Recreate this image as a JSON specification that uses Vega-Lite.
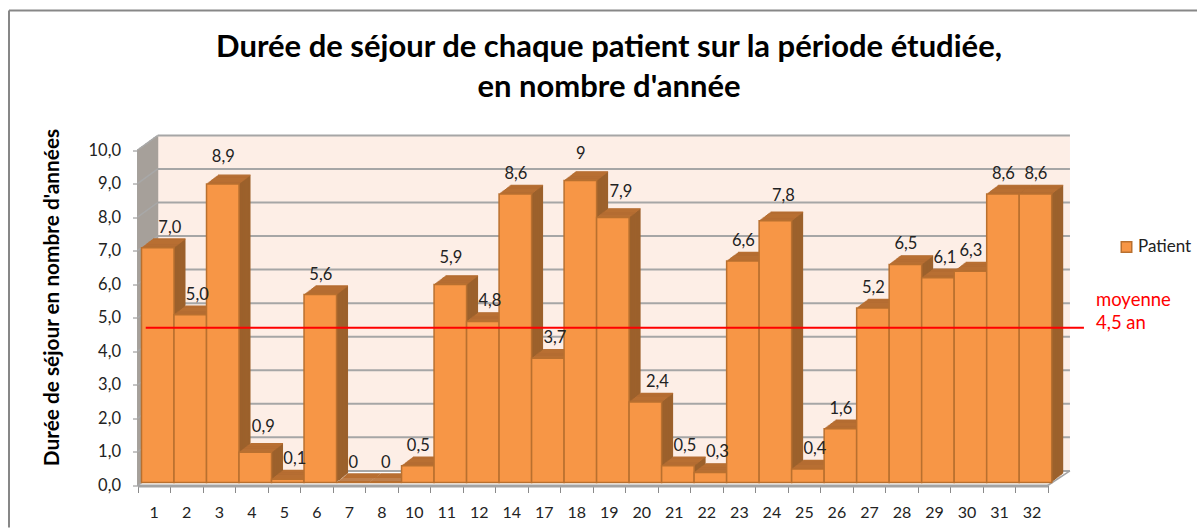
{"$schema":"https://vega.github.io/schema/vega-lite/v6.json","width":1188,"height":517,"autosize":{"type":"none"},"padding":{"left":9,"top":10.5,"right":0,"bottom":0},"background":"white","config":{"view":{"stroke":null},"font":"Lato"},"title":{"text":["Durée de séjour de chaque patient sur la période étudiée,","en nombre d'année"],"anchor":"middle","frame":"group","offset":-94,"dx":6,"fontSize":31,"fontWeight":"bold","font":"Lato","color":"#000000","lineHeight":40},"datasets":{"bars":[{"patient":"1","duree":7.0,"etiquette":"7,0"},{"patient":"2","duree":5.0,"etiquette":"5,0"},{"patient":"3","duree":8.9,"etiquette":"8,9"},{"patient":"4","duree":0.9,"etiquette":"0,9"},{"patient":"5","duree":0.1,"etiquette":"0,1"},{"patient":"6","duree":5.6,"etiquette":"5,6"},{"patient":"7","duree":0,"etiquette":"0"},{"patient":"8","duree":0,"etiquette":"0"},{"patient":"10","duree":0.5,"etiquette":"0,5"},{"patient":"11","duree":5.9,"etiquette":"5,9"},{"patient":"12","duree":4.8,"etiquette":"4,8"},{"patient":"14","duree":8.6,"etiquette":"8,6"},{"patient":"17","duree":3.7,"etiquette":"3,7"},{"patient":"18","duree":9,"etiquette":"9"},{"patient":"19","duree":7.9,"etiquette":"7,9"},{"patient":"20","duree":2.4,"etiquette":"2,4"},{"patient":"21","duree":0.5,"etiquette":"0,5"},{"patient":"22","duree":0.3,"etiquette":"0,3"},{"patient":"23","duree":6.6,"etiquette":"6,6"},{"patient":"24","duree":7.8,"etiquette":"7,8"},{"patient":"25","duree":0.4,"etiquette":"0,4"},{"patient":"26","duree":1.6,"etiquette":"1,6"},{"patient":"27","duree":5.2,"etiquette":"5,2"},{"patient":"28","duree":6.5,"etiquette":"6,5"},{"patient":"29","duree":6.1,"etiquette":"6,1"},{"patient":"30","duree":6.3,"etiquette":"6,3"},{"patient":"31","duree":8.6,"etiquette":"8,6"},{"patient":"32","duree":8.6,"etiquette":"8,6"}],"ticks":[{"t":0},{"t":1},{"t":2},{"t":3},{"t":4},{"t":5},{"t":6},{"t":7},{"t":8},{"t":9},{"t":10}],"one":[{"n":1}]},"data":{"name":"bars"},"layer":[
{"data":{"name":"one"},"mark":{"type":"rect","fill":"#fdeee6","xOffset":4,"x2Offset":38.5,"yOffset":-14.6,"y2Offset":-14.6},"encoding":{"x":{"datum":"1","type":"ordinal","title":null,"scale":{"domain":["1","2","3","4","5","6","7","8","10","11","12","14","17","18","19","20","21","22","23","24","25","26","27","28","29","30","31","32"],"range":[128.5,1038.7],"paddingInner":0,"paddingOuter":0},"axis":{"orient":"bottom","offset":-42,"bandPosition":0,"tickBand":"extent","labelAngle":0,"domain":true,"domainColor":"#a3a3a3","domainWidth":3,"tickColor":"#8a8a8a","tickSize":7,"tickWidth":1,"tickExtra":true,"grid":false,"labelFontSize":16,"labelColor":"#222222","labelFont":"Lato","labelPadding":12,"title":null}},"x2":{"datum":"32"},"y":{"datum":0,"type":"quantitative","scale":{"domain":[0,10],"range":[475,139.5],"nice":false,"zero":true},"axis":{"orient":"left","offset":-128.5,"values":[0,1,2,3,4,5,6,7,8,9,10],"domainColor":"#a3a3a3","domainWidth":2,"tickColor":"#8a8a8a","tickSize":5,"grid":false,"labelFontSize":16.5,"labelColor":"#222222","labelFont":"Lato","labelPadding":12,"labelExpr":"replace(format(datum.value,'.1f'),'.',',')","title":"Durée de séjour en nombre d'années","titleFontSize":20.8,"titleFontWeight":"bold","titleFont":"Lato","titleColor":"#000000","titleX":-75.5,"titleY":286.5,"titleAnchor":"middle"}},"y2":{"datum":10}}},
{"data":{"name":"ticks"},"mark":{"type":"rule","color":"#a6a6a6","strokeWidth":2,"xOffset":4,"x2Offset":38.5,"yOffset":-14.6},"encoding":{"x":{"datum":"1","type":"ordinal"},"x2":{"datum":"32"},"y":{"field":"t","type":"quantitative"}}},
{"data":{"name":"one"},"layer":[
{"mark":{"type":"rule","color":"#a6a09a","strokeWidth":3,"xOffset":-15,"yOffset":-1,"y2Offset":-1}},
{"mark":{"type":"rule","color":"#a6a09a","strokeWidth":3,"xOffset":-13,"yOffset":-2.2,"y2Offset":-2.2}},
{"mark":{"type":"rule","color":"#a6a09a","strokeWidth":3,"xOffset":-11,"yOffset":-3.7,"y2Offset":-3.7}},
{"mark":{"type":"rule","color":"#a6a09a","strokeWidth":3,"xOffset":-9,"yOffset":-5.1,"y2Offset":-5.1}},
{"mark":{"type":"rule","color":"#a6a09a","strokeWidth":3,"xOffset":-7,"yOffset":-6.6,"y2Offset":-6.6}},
{"mark":{"type":"rule","color":"#a6a09a","strokeWidth":3,"xOffset":-5,"yOffset":-8,"y2Offset":-8}},
{"mark":{"type":"rule","color":"#a6a09a","strokeWidth":3,"xOffset":-3,"yOffset":-9.5,"y2Offset":-9.5}},
{"mark":{"type":"rule","color":"#a6a09a","strokeWidth":3,"xOffset":-1,"yOffset":-11,"y2Offset":-11}},
{"mark":{"type":"rule","color":"#a6a09a","strokeWidth":3,"xOffset":1,"yOffset":-12.4,"y2Offset":-12.4}},
{"mark":{"type":"rule","color":"#a6a09a","strokeWidth":3,"xOffset":3,"yOffset":-13.8,"y2Offset":-13.8}}
],"encoding":{"x":{"datum":"1","type":"ordinal"},"y":{"datum":0,"type":"quantitative"},"y2":{"datum":10}}},
{"data":{"name":"ticks"},"mark":{"type":"rule","color":"#a8a8a8","strokeWidth":1.5,"xOffset":-16.25,"x2Offset":4,"y2Offset":-14.6},"encoding":{"x":{"datum":"1","type":"ordinal"},"x2":{"datum":"1"},"y":{"field":"t","type":"quantitative"},"y2":{"field":"t"}}},
{"data":{"name":"one"},"mark":{"type":"rule","color":"#a3a3a3","strokeWidth":1.5,"xOffset":16.25,"x2Offset":38.5,"y2Offset":-14.6},"encoding":{"x":{"datum":"32","type":"ordinal"},"x2":{"datum":"32"},"y":{"datum":0,"type":"quantitative"},"y2":{"datum":0}}},
{"layer":[
{"mark":{"type":"bar","fill":"#9c612c","xOffset":15.5,"x2Offset":15.5,"yOffset":-11.7,"y2Offset":-11.7}},
{"mark":{"type":"bar","fill":"#9c612c","xOffset":14.35,"x2Offset":14.35,"yOffset":-10.83,"y2Offset":-10.83}},
{"mark":{"type":"bar","fill":"#9c612c","xOffset":13.2,"x2Offset":13.2,"yOffset":-9.96,"y2Offset":-9.96}},
{"mark":{"type":"bar","fill":"#9c612c","xOffset":12.05,"x2Offset":12.05,"yOffset":-9.09,"y2Offset":-9.09}},
{"mark":{"type":"bar","fill":"#9c612c","xOffset":10.9,"x2Offset":10.9,"yOffset":-8.22,"y2Offset":-8.22}},
{"mark":{"type":"bar","fill":"#9c612c","xOffset":9.75,"x2Offset":9.75,"yOffset":-7.35,"y2Offset":-7.35}},
{"mark":{"type":"bar","fill":"#9c612c","xOffset":8.6,"x2Offset":8.6,"yOffset":-6.48,"y2Offset":-6.48}},
{"mark":{"type":"bar","fill":"#9c612c","xOffset":7.45,"x2Offset":7.45,"yOffset":-5.61,"y2Offset":-5.61}},
{"mark":{"type":"bar","fill":"#9c612c","xOffset":6.3,"x2Offset":6.3,"yOffset":-4.74,"y2Offset":-4.74}},
{"mark":{"type":"bar","fill":"#9c612c","xOffset":5.15,"x2Offset":5.15,"yOffset":-3.87,"y2Offset":-3.87}}
],"encoding":{"x":{"field":"patient","type":"ordinal"},"y":{"field":"duree","type":"quantitative"},"y2":{"datum":0}}},
{"layer":[
{"mark":{"type":"bar","stroke":"#b86f33","strokeWidth":1.2,"xOffset":15.5,"x2Offset":15.5,"yOffset":-11.7,"y2Offset":-11.7}},
{"mark":{"type":"bar","stroke":"#b86f33","strokeWidth":1.2,"xOffset":14.35,"x2Offset":14.35,"yOffset":-10.83,"y2Offset":-10.83}},
{"mark":{"type":"bar","stroke":"#b86f33","strokeWidth":1.2,"xOffset":13.2,"x2Offset":13.2,"yOffset":-9.96,"y2Offset":-9.96}},
{"mark":{"type":"bar","stroke":"#b86f33","strokeWidth":1.2,"xOffset":12.05,"x2Offset":12.05,"yOffset":-9.09,"y2Offset":-9.09}},
{"mark":{"type":"bar","stroke":"#b86f33","strokeWidth":1.2,"xOffset":10.9,"x2Offset":10.9,"yOffset":-8.22,"y2Offset":-8.22}},
{"mark":{"type":"bar","stroke":"#b86f33","strokeWidth":1.2,"xOffset":9.75,"x2Offset":9.75,"yOffset":-7.35,"y2Offset":-7.35}},
{"mark":{"type":"bar","stroke":"#b86f33","strokeWidth":1.2,"xOffset":8.6,"x2Offset":8.6,"yOffset":-6.48,"y2Offset":-6.48}},
{"mark":{"type":"bar","stroke":"#b86f33","strokeWidth":1.2,"xOffset":7.45,"x2Offset":7.45,"yOffset":-5.61,"y2Offset":-5.61}},
{"mark":{"type":"bar","stroke":"#b86f33","strokeWidth":1.2,"xOffset":6.3,"x2Offset":6.3,"yOffset":-4.74,"y2Offset":-4.74}},
{"mark":{"type":"bar","stroke":"#b86f33","strokeWidth":1.2,"xOffset":5.15,"x2Offset":5.15,"yOffset":-3.87,"y2Offset":-3.87}}
],"encoding":{"x":{"field":"patient","type":"ordinal"},"y":{"field":"duree","type":"quantitative"},"y2":{"field":"duree"}}},
{"mark":{"type":"bar","stroke":"#b9702f","strokeWidth":1.5,"xOffset":4,"x2Offset":4,"yOffset":-3,"y2Offset":-3},"encoding":{"x":{"field":"patient","type":"ordinal"},"y":{"field":"duree","type":"quantitative"},"y2":{"datum":0},"color":{"datum":"Patient","type":"nominal","scale":{"domain":["Patient"],"range":["#f79646"]},"legend":{"orient":"none","legendX":1109,"legendY":228,"title":null,"symbolType":"square","symbolSize":110,"symbolStrokeColor":"#b9702f","symbolStrokeWidth":1.5,"labelFontSize":17,"labelOffset":3,"labelColor":"#222222","labelFont":"Lato"}}}},
{"data":{"name":"one"},"mark":{"type":"rule","color":"#ff0000","strokeWidth":2,"xOffset":-8,"x2Offset":52.5},"encoding":{"x":{"datum":"1","type":"ordinal"},"x2":{"datum":"32"},"y":{"datum":4.7,"type":"quantitative"}}},
{"layer":[
{"transform":[{"filter":{"field":"patient","oneOf":["6","7","8","10","14","23","26","27","28","30","31","32"]}}],"mark":{"type":"text","fontSize":16.5,"color":"#222222","dx":4.5,"dy":-23,"font":"Lato"}},
{"transform":[{"filter":{"field":"patient","oneOf":["2","5","12","17","21","22","25","29"]}}],"mark":{"type":"text","fontSize":16.5,"color":"#222222","dx":11,"dy":-23,"font":"Lato"}},
{"transform":[{"filter":{"field":"patient","oneOf":["1","20"]}}],"mark":{"type":"text","fontSize":16.5,"color":"#222222","dx":16,"dy":-23,"font":"Lato"}},
{"transform":[{"filter":{"field":"patient","oneOf":["3","11","18"]}}],"mark":{"type":"text","fontSize":16.5,"color":"#222222","dx":4.5,"dy":-30,"font":"Lato"}},
{"transform":[{"filter":{"field":"patient","oneOf":["4","19","24"]}}],"mark":{"type":"text","fontSize":16.5,"color":"#222222","dx":12,"dy":-28,"font":"Lato"}}
],"encoding":{"x":{"field":"patient","type":"ordinal"},"y":{"field":"duree","type":"quantitative"},"text":{"field":"etiquette"}}},
{"data":{"name":"one"},"mark":{"type":"text","fontSize":18.5,"color":"#ff0000","align":"left","dx":64.5,"dy":-18,"lineHeight":23,"font":"Lato"},"encoding":{"x":{"datum":"32","type":"ordinal"},"y":{"datum":5,"type":"quantitative"},"text":{"value":["moyenne","4,5 an"]}}},
{"data":{"name":"one"},"mark":{"type":"rule","color":"#878787","strokeWidth":2},"encoding":{"y":{"value":0}}},
{"data":{"name":"one"},"mark":{"type":"rule","color":"#878787","strokeWidth":2},"encoding":{"x":{"value":0}}}
]}
